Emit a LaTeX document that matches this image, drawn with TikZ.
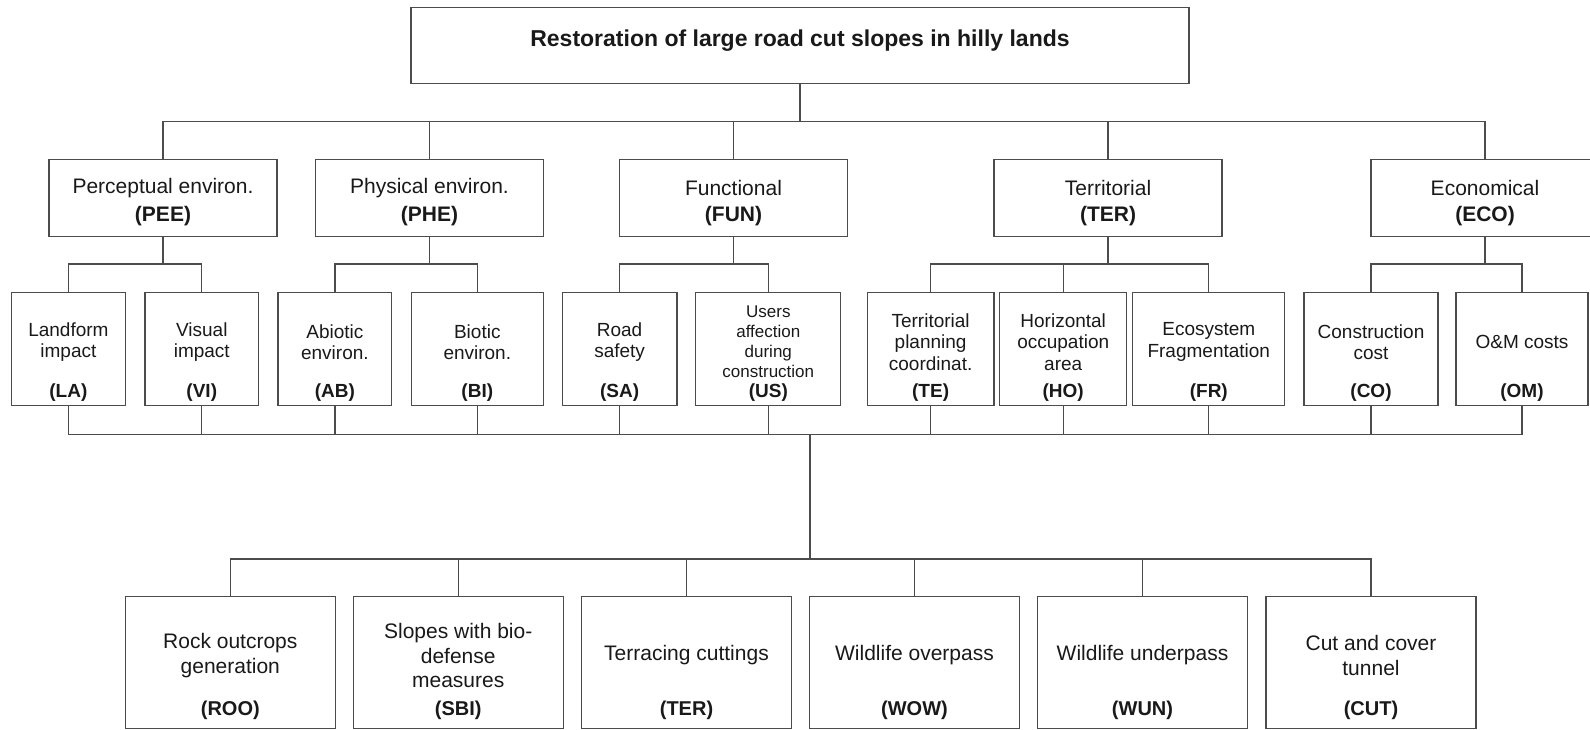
\documentclass[tikz,border=0pt]{standalone}
\usepackage{fontspec}
\setmainfont{Liberation Sans}
\begin{document}
\begin{tikzpicture}[x=1pt,y=-1pt,
  box/.style={draw=black!70, line width=1.3pt, rectangle, inner sep=0pt},
  conn/.style={draw=black!70, line width=1.3pt, line cap=rect},
  ttl/.style={font=\fontsize{23}{27}\selectfont\bfseries, inner sep=0pt, text=black!90},
  t2/.style={font=\fontsize{21}{24}\selectfont, inner sep=0pt, align=center, text=black!90},
  c2/.style={font=\fontsize{21}{24}\selectfont\bfseries, inner sep=0pt, text=black!90},
  t3/.style={font=\fontsize{19}{21.5}\selectfont, inner sep=0pt, align=center, text=black!90},
  t3s/.style={font=\fontsize{17}{20}\selectfont, inner sep=0pt, align=center, text=black!90},
  c3/.style={font=\fontsize{19}{22}\selectfont\bfseries, inner sep=0pt, text=black!90},
  t4/.style={font=\fontsize{21}{24.5}\selectfont, inner sep=0pt, align=center, text=black!90},
  c4/.style={font=\fontsize{20}{24}\selectfont\bfseries, inner sep=0pt, text=black!90},
]
\useasboundingbox (0,0) rectangle (1590,730);
\clip (0,0) rectangle (1590,730);

% top
\node[box, minimum width=778, minimum height=76] (top) at (800,45.4) {};
\node[ttl] (title) at (800,40.5) {Restoration of large road cut slopes in hilly lands};

% level 2
\foreach \n/\cx/\t in {PEE/163/{Perceptual environ.}, PHE/429.5/{Physical environ.},
  FUN/733.5/{Functional}, TER/1108/{Territorial}, ECO/1485/{Economical}}
{
  \node[box, minimum width=228, minimum height=77] (\n) at (\cx,198) {};
  \node[t2] (\n-t) at (\cx,188) {\t};
  \node[c2] (\n-c) at (\cx,216.5) {(\n)};
}

% level 3
\foreach \n/\cx/\w/\s/\t in {
 LA/68.4/114.3/t3/{Landform\\impact},
 VI/201.8/113.8/t3/{Visual\\impact},
 AB/334.9/113.8/t3/{Abiotic\\environ.},
 BI/477.3/132.2/t3/{Biotic\\environ.},
 SA/619.6/114.8/t3/{Road\\safety},
 US/768.3/145/t3s/{Users\\affection\\during\\construction},
 TE/930.6/126.5/t3/{Territorial\\planning\\coordinat.},
 HO/1063.2/127/t3/{Horizontal\\occupation\\area},
 FR/1208.8/152/t3/{Ecosystem\\Fragmentation},
 CO/1371/134/t3/{Construction\\cost},
 OM/1522/132/t3/{O\&M costs}}
{
  \node[box, minimum width=\w, minimum height=113] (\n) at (\cx,349.3) {};
  \node[\s] (\n-t) at (\cx,342) {\t};
  \node[c3] (\n-c) at (\cx,392.5) {(\n)};
}

% level 4
\foreach \n/\cx/\t/\c in {
 roo/230.3/{Rock outcrops\\generation}/ROO,
 sbi/458.2/{Slopes with bio-\\defense\\measures}/SBI,
 terr/686.5/{Terracing cuttings}/TER,
 wow/914.5/{Wildlife overpass}/WOW,
 wun/1142.5/{Wildlife underpass}/WUN,
 cut/1371/{Cut and cover\\tunnel}/CUT}
{
  \node[box, minimum width=210, minimum height=131.8] (\n) at (\cx,662.6) {};
  \node[t4] (\n-t) at (\cx,655.5) {\t};
  \node[c4] (\n-c) at (\cx,710.5) {(\c)};
}

% connectors
\coordinate (bus1) at (0,121.7);
\coordinate (bus2) at (0,264);
\coordinate (bus3) at (0,434.3);
\coordinate (bus4) at (0,559);
\coordinate (hub) at (810,434.3);

\draw[conn] (top.south) -- (top.south |- bus1);
\draw[conn] (PEE.north |- bus1) -- (ECO.north |- bus1);
\foreach \n in {PEE,PHE,FUN,TER,ECO}
  \draw[conn] (\n.north) -- (\n.north |- bus1);

\foreach \p/\a/\b in {PEE/LA/VI, PHE/AB/BI, FUN/SA/US, TER/TE/FR, ECO/CO/OM}
{
  \draw[conn] (\p.south) -- (\p.south |- bus2);
  \draw[conn] (\a.north) -- (\a.north |- bus2) -- (\b.north |- bus2) -- (\b.north);
}
\draw[conn] (HO.north) -- (HO.north |- bus2);

\foreach \n in {LA,VI,AB,BI,SA,US,TE,HO,FR,CO,OM}
  \draw[conn] (\n.south) -- (\n.south |- bus3);
\draw[conn] (LA.south |- bus3) -- (OM.south |- bus3);

\draw[conn] (hub) -- (hub |- bus4);
\draw[conn] (roo.north |- bus4) -- (cut.north |- bus4);
\foreach \n in {roo,sbi,terr,wow,wun,cut}
  \draw[conn] (\n.north) -- (\n.north |- bus4);
\end{tikzpicture}
\end{document}
